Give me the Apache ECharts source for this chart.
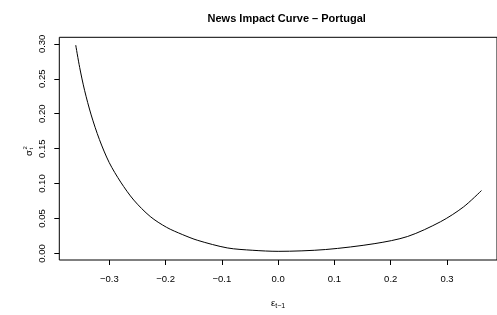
<!DOCTYPE html>
<html>
<head>
<meta charset="utf-8">
<script src="https://cdn.jsdelivr.net/npm/echarts@6/dist/echarts.min.js"></script>
<style>html,body{margin:0;padding:0;background:#fff;}#c{width:497px;height:315px;}</style>
</head>
<body>
<div id="c"></div>
<script>
// Data
var epsValues = [-0.3596, -0.3526, -0.3439, -0.3322, -0.3176, -0.3002, -0.2797, -0.2565, -0.2273, -0.1983, -0.1703, -0.1428, -0.0904, -0.045, 0.0, 0.0844, 0.1719, 0.2301, 0.2885, 0.3292, 0.3612];
var sigmaValues = [0.2982, 0.2662, 0.2335, 0.1983, 0.1632, 0.1302, 0.1021, 0.0764, 0.0529, 0.0374, 0.0271, 0.0187, 0.0079, 0.0045, 0.0030, 0.0056, 0.0141, 0.0243, 0.0454, 0.0665, 0.0900];
var xTicks = [-0.3, -0.2, -0.1, 0.0, 0.1, 0.2, 0.3];
var yTicks = [0.00, 0.05, 0.10, 0.15, 0.20, 0.25, 0.30];
var titleText = 'News Impact Curve \u2013 Portugal';

var points = epsValues.map(function (x, i) { return [x, sigmaValues[i]]; });
var FONT = 'Liberation Sans, Arial, Helvetica, sans-serif';
function minus(s) { return s.replace('-', '\u2212'); }

var chart = echarts.init(document.getElementById('c'), null, { renderer: 'canvas' });
chart.setOption({
  animation: false,
  backgroundColor: '#fff',
  title: {
    text: titleText,
    left: 281.7,
    top: 8,
    textAlign: 'center',
    textStyle: { fontFamily: FONT, fontSize: 11, fontWeight: 'bold', color: '#000' }
  },
  grid: {
    left: 59.3, right: -7, top: 37.3, bottom: 51,
    show: true, borderColor: '#000', borderWidth: 1, backgroundColor: 'transparent'
  },
  xAxis: {
    type: 'value',
    min: -0.3888, max: 0.3888,
    splitLine: { show: false },
    axisLine: { show: false, onZero: false },
    axisTick: { show: true, length: 5, inside: false, customValues: xTicks, lineStyle: { color: '#000', width: 1 } },
    axisLabel: {
      customValues: xTicks, margin: 14, color: '#000', fontFamily: FONT, fontSize: 9.5,
      formatter: function (v) { return minus(v.toFixed(1)); }
    },
    name: '{a|\u03b5}{s|t\u22121}',
    nameLocation: 'middle',
    nameGap: 37,
    nameTextStyle: {
      rich: {
        a: { fontFamily: FONT, fontSize: 9.5, color: '#000' },
        s: { fontFamily: FONT, fontSize: 7, color: '#000', padding: [6, 0, 0, 0] }
      }
    }
  },
  yAxis: {
    type: 'value',
    min: -0.0094, max: 0.3094,
    splitLine: { show: false },
    axisLine: { show: false, onZero: false },
    axisTick: { show: true, length: 5, inside: false, customValues: yTicks, lineStyle: { color: '#000', width: 1 } },
    axisLabel: {
      customValues: yTicks, rotate: 90, margin: 12, color: '#000', fontFamily: FONT, fontSize: 9.5,
      formatter: function (v) { return v.toFixed(2); }
    }
  },
  graphic: [{
    type: 'group',
    x: 29, y: 151,
    rotation: Math.PI / 2,
    children: [
      { type: 'text', x: -2, y: 0, style: { text: '\u03c3', font: '9.5px ' + FONT, fill: '#000', textAlign: 'center', textVerticalAlign: 'middle' } },
      { type: 'text', x: 1.5, y: -3.5, style: { text: '2', font: '6px ' + FONT, fill: '#000', textAlign: 'left', textVerticalAlign: 'middle' } },
      { type: 'text', x: 1.5, y: 2.5, style: { text: 't', font: '6px ' + FONT, fill: '#000', textAlign: 'left', textVerticalAlign: 'middle' } }
    ]
  }],
  series: [{
    type: 'line',
    data: points,
    smooth: 0.3,
    showSymbol: false,
    lineStyle: { color: '#000', width: 1 },
    clip: true
  }]
});
</script>
</body>
</html>
